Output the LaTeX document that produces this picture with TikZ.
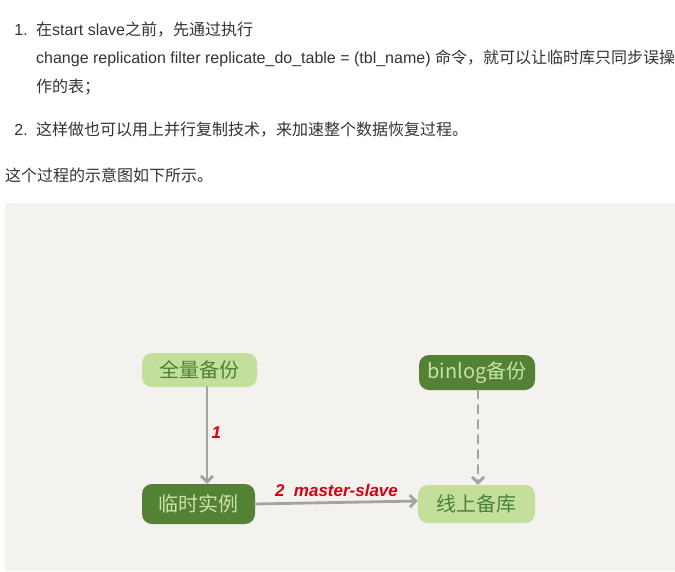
\documentclass[tikz,border=0pt]{standalone}
\usepackage{fontspec}
\setmainfont{Liberation Sans}
\newfontfamily\cjk{Noto Sans CJK SC}
\usepackage{tikz}
\usetikzlibrary{arrows.meta}
\definecolor{paper}{HTML}{F3F2EE}
\definecolor{textgray}{HTML}{333333}
\definecolor{lightfill}{HTML}{C3DF9B}
\definecolor{lighttext}{HTML}{4E7F38}
\definecolor{darkfill}{HTML}{548235}
\definecolor{darktext}{HTML}{C8E3A6}
\definecolor{tagred}{HTML}{D6000F}
\definecolor{flowgray}{HTML}{A3A3A3}

\begin{document}
\begin{tikzpicture}[x=1pt, y=-1pt,
        txt/.style={anchor=west, inner sep=0pt, text=textgray, font=\fontsize{16}{19}\selectfont},
        lightbox/.style={fill=lightfill, text=lighttext, rounded corners=10pt, font=\cjk\fontsize{20}{24}\selectfont},
        darkbox/.style={fill=darkfill, text=darktext, rounded corners=10pt, font=\cjk\fontsize{20}{24}\selectfont},
        flow/.style={draw=flowgray, line width=2.8pt, line cap=round, -{Straight Barb[length=6pt,width=12pt]}},
        tag/.style={text=tagred, font=\fontsize{17}{20}\selectfont\bfseries\itshape}]
            \useasboundingbox (0,0) rectangle (675,571);
            \node[txt, anchor=east] (num1) at (28,30) {1.};
            \node[txt] (line1) at (36,30) {{\cjk 在}start slave{\cjk 之前，先通过执行}};
            \node[txt] (line2) at (36,58) {change replication filter replicate\_do\_table = (tbl\_name) {\cjk 命令，就可以让临时库只同步误操}};
            \node[txt] (line3) at (36,87) {\cjk 作的表；};
            \node[txt, anchor=east] (num2) at (28,130) {2.};
            \node[txt] (line4) at (36,130) {\cjk 这样做也可以用上并行复制技术，来加速整个数据恢复过程。};
            \node[txt] (line5) at (5,175) {\cjk 这个过程的示意图如下所示。};
            \fill[paper] (5,203) rectangle (675,571);
            \node[lightbox, minimum width=115pt, minimum height=34pt] (full) at (199.5,370) {全量备份};
            \node[darkbox, minimum width=116pt, minimum height=35pt] (binlog) at (477,372.5) {binlog备份};
            \node[darkbox, minimum width=113pt, minimum height=40pt] (temp) at (198.5,504) {临时实例};
            \node[lightbox, minimum width=117pt, minimum height=38pt] (online) at (476.5,504) {线上备库};
            \draw[flow] ([xshift=7.5pt]full.south) -- node[tag, right, pos=0.47] {1} ([xshift=8.5pt]temp.north);
            \draw[flow] (temp.east) -- node[tag, above=1pt] {2\ \ master-slave} ([yshift=3pt]online.west);
            \draw[flow, dash pattern=on 8pt off 7pt] ([xshift=1pt]binlog.south) -- ([xshift=1.5pt]online.north);
        \end{tikzpicture}
\end{document}
